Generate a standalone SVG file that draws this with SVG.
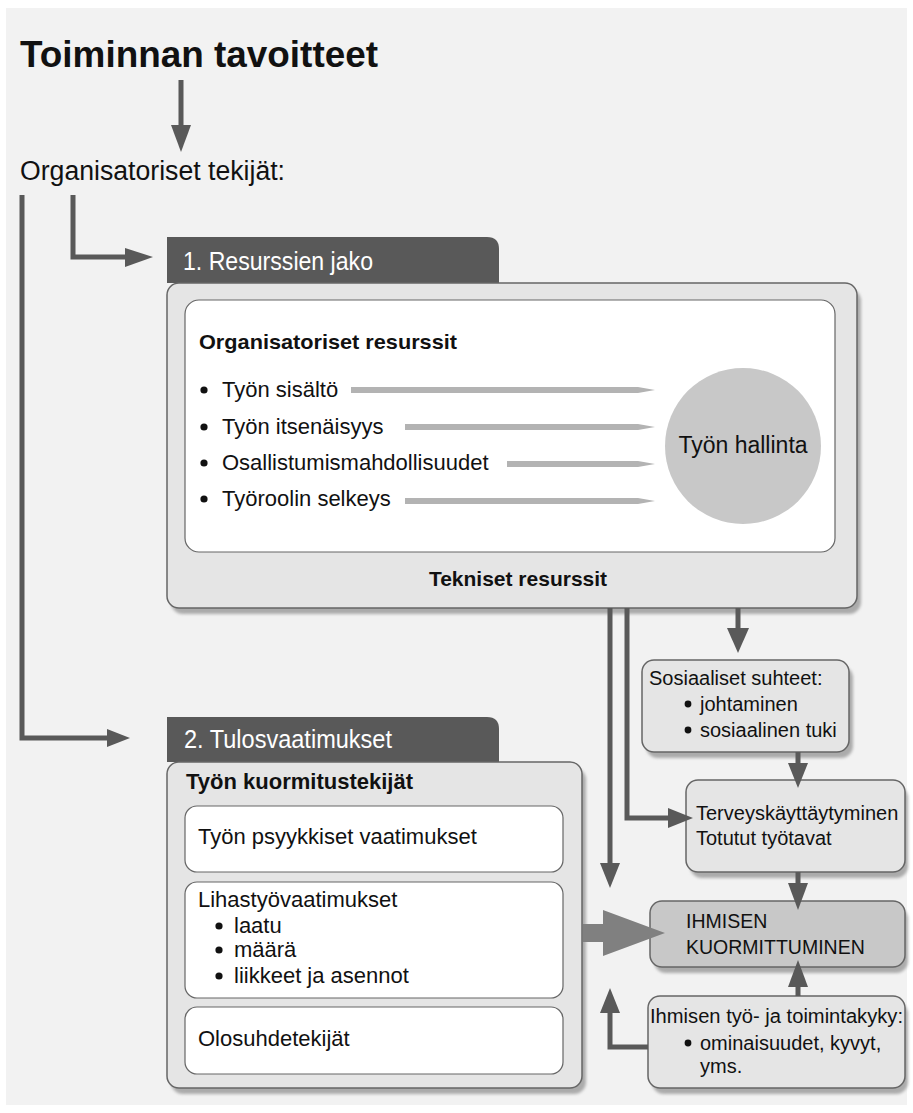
<svg xmlns="http://www.w3.org/2000/svg" width="913" height="1113" viewBox="0 0 913 1113">
<defs>
<filter id="blur" x="-10%" y="-10%" width="120%" height="120%"><feGaussianBlur stdDeviation="1.5"/></filter>
<style>
text{font-family:"Liberation Sans",Arial,sans-serif;fill:#111}
.t22{font-size:22px}
.t20{font-size:20px}
.b{font-weight:bold}
.wt{fill:#fff}
.outer{fill:#e5e5e5;stroke:#666;stroke-width:1.5}
.inner{fill:#fff;stroke:#666;stroke-width:1.2}
.sh{fill:#ababab;filter:url(#blur)}
.tab{fill:#595959}
.ln{fill:none;stroke:#595959;stroke-width:5}
.hd{fill:#595959}
.bar{fill:#b3b3b3}
.dot{fill:#111}
</style>
</defs>
<rect x="6" y="8" width="901" height="1097" fill="#f2f2f2"/>

<g id="title">
<text x="20" y="67" class="b" font-size="37" textLength="358" lengthAdjust="spacingAndGlyphs">Toiminnan tavoitteet</text>
</g>
<g id="org-tekijat">
<text x="20" y="180" font-size="27" textLength="265" lengthAdjust="spacingAndGlyphs">Organisatoriset tekijät:</text>
</g>

<g id="box1">
<path class="tab" d="M167,283 V237 H487 Q499,237 499,249 V283 Z"/>
<text x="183" y="270" class="wt" font-size="26" textLength="190" lengthAdjust="spacingAndGlyphs">1. Resurssien jako</text>
<rect class="sh" x="171" y="289" width="690" height="325" rx="12"/>
<rect class="outer" x="167" y="283" width="690" height="325" rx="12"/>
<rect class="inner" x="185" y="300" width="650" height="252" rx="14"/>
<text x="199" y="349" class="b" font-size="21" textLength="258" lengthAdjust="spacingAndGlyphs">Organisatoriset resurssit</text>
<circle class="dot" cx="204" cy="390" r="3.6"/>
<circle class="dot" cx="204" cy="427" r="3.6"/>
<circle class="dot" cx="204" cy="463" r="3.6"/>
<circle class="dot" cx="204" cy="499" r="3.6"/>
<text x="222" y="397" class="t22">Työn sisältö</text>
<text x="222" y="434" class="t22">Työn itsenäisyys</text>
<text x="222" y="470" class="t22">Osallistumismahdollisuudet</text>
<text x="222" y="506" class="t22">Työroolin selkeys</text>
<polygon class="bar" points="351,387 638,387 655,390 638,393 351,393"/>
<polygon class="bar" points="405,424 638,424 655,427 638,430 405,430"/>
<polygon class="bar" points="507,461 638,461 655,464 638,467 507,467"/>
<polygon class="bar" points="405,498 638,498 655,501 638,504 405,504"/>
<circle cx="743" cy="446" r="78" fill="#c8c8c8"/>
<text x="743" y="453" font-size="23" text-anchor="middle">Työn hallinta</text>
<text x="518" y="586" class="b" font-size="21" text-anchor="middle">Tekniset resurssit</text>
</g>

<g id="box2">
<path class="tab" d="M167,762 V717 H487 Q499,717 499,729 V762 Z"/>
<text x="184" y="748" class="wt" font-size="26" textLength="208" lengthAdjust="spacingAndGlyphs">2. Tulosvaatimukset</text>
<rect class="sh" x="171" y="768" width="415" height="326" rx="12"/>
<rect class="outer" x="167" y="762" width="415" height="326" rx="12"/>
<text x="186" y="789" class="b t22">Työn kuormitustekijät</text>
<rect class="inner" x="185" y="806" width="378" height="66" rx="12"/>
<text x="198" y="844" class="t22">Työn psyykkiset vaatimukset</text>
<rect class="inner" x="185" y="882" width="378" height="116" rx="12"/>
<text x="198" y="907" class="t22">Lihastyövaatimukset</text>
<circle class="dot" cx="219" cy="926" r="3.6"/>
<circle class="dot" cx="219" cy="950" r="3.6"/>
<circle class="dot" cx="219" cy="976" r="3.6"/>
<text x="234" y="933" class="t22">laatu</text>
<text x="234" y="957" class="t22">määrä</text>
<text x="234" y="983" class="t22">liikkeet ja asennot</text>
<rect class="inner" x="185" y="1007" width="378" height="67" rx="12"/>
<text x="198" y="1046" class="t22">Olosuhdetekijät</text>
</g>

<g id="sosiaaliset">
<rect class="sh" x="646" y="666" width="207" height="92" rx="12"/>
<rect class="outer" x="642" y="660" width="207" height="92" rx="12"/>
<text x="649" y="685" class="t20">Sosiaaliset suhteet:</text>
<circle class="dot" cx="688" cy="704" r="3.4"/>
<circle class="dot" cx="688" cy="730" r="3.4"/>
<text x="700" y="711" class="t20">johtaminen</text>
<text x="700" y="737" class="t20">sosiaalinen tuki</text>
</g>

<g id="terveys">
<rect class="sh" x="690" y="786" width="218" height="92" rx="12"/>
<rect class="outer" x="686" y="780" width="219" height="92" rx="12"/>
<text x="696" y="820" class="t20">Terveyskäyttäytyminen</text>
<text x="696" y="845" class="t20">Totutut työtavat</text>
</g>

<g id="kuormittuminen">
<rect class="sh" x="654" y="907" width="254" height="66" rx="12"/>
<rect x="650" y="901" width="255" height="66" rx="12" fill="#c8c8c8" stroke="#666" stroke-width="1.5"/>
<text x="686" y="928" font-size="19.5">IHMISEN</text>
<text x="686" y="954" font-size="19.5">KUORMITTUMINEN</text>
</g>

<g id="toimintakyky">
<rect class="sh" x="652" y="1002" width="256" height="92" rx="12"/>
<rect class="outer" x="648" y="996" width="257" height="92" rx="12"/>
<text x="650" y="1023" font-size="19.5" textLength="253" lengthAdjust="spacingAndGlyphs">Ihmisen työ- ja toimintakyky:</text>
<circle class="dot" cx="688" cy="1043" r="3.4"/>
<text x="700" y="1050" class="t20">ominaisuudet, kyvyt,</text>
<text x="700" y="1073" class="t20">yms.</text>
</g>

<g id="connectors">
<line class="ln" x1="181" y1="80" x2="181" y2="128"/>
<polygon class="hd" points="171,125 191,125 181,152"/>
<path class="ln" d="M22,195 V738 H110"/>
<polygon class="hd" points="107,729 107,747 130,738"/>
<path class="ln" d="M73,195 V257 H128"/>
<polygon class="hd" points="125,248 125,267 153,257"/>
<line class="ln" x1="610" y1="608" x2="610" y2="866"/>
<polygon class="hd" points="600,863 620,863 610,888"/>
<path class="ln" d="M627,608 V818 H670"/>
<polygon class="hd" points="668,808 668,828 693,818"/>
<line class="ln" x1="738" y1="608" x2="738" y2="630"/>
<polygon class="hd" points="727,628 749,628 738,653"/>
<line class="ln" x1="798" y1="752" x2="798" y2="765"/>
<polygon class="hd" points="788,763 808,763 798,788"/>
<line class="ln" x1="798" y1="872" x2="798" y2="885"/>
<polygon class="hd" points="788,883 808,883 798,910"/>
<line class="ln" x1="798" y1="996" x2="798" y2="985"/>
<polygon class="hd" points="788,987 808,987 798,960"/>
<path class="ln" d="M648,1047 H610 V1010"/>
<polygon class="hd" points="600,1013 620,1013 610,988"/>
<polygon fill="#808080" points="583,924 603,924 603,910 665,933 603,956 603,942 583,942"/>
</g>
</svg>
